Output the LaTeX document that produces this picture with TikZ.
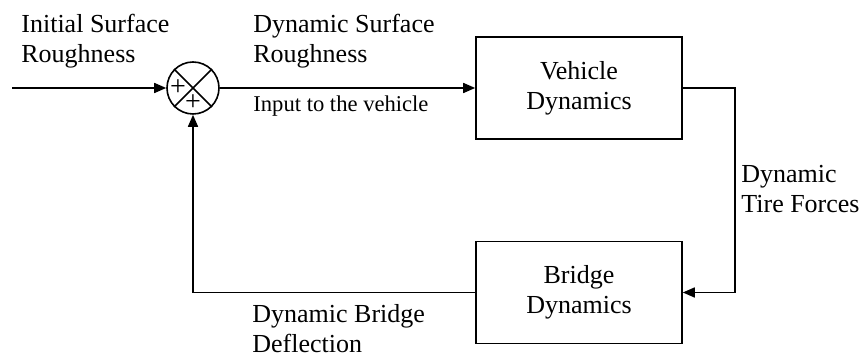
\documentclass[tikz,border=0pt]{standalone}
\usepackage{fontspec}
\setmainfont{Liberation Serif}
\usetikzlibrary{arrows.meta}
\begin{document}
\begin{tikzpicture}[x=0.5pt,y=-0.5pt]
  \tikzset{block/.style={draw, line width=0.8pt, minimum width=103pt, minimum height=51pt, align=center, font=\fontsize{13}{15}\selectfont}}
  \tikzset{lbl/.style={anchor=base west, align=left, inner sep=0pt, font=\fontsize{13}{15}\selectfont}}
  \tikzset{sig/.style={line width=0.8pt, -{Triangle[length=6pt,width=5pt]}}}
  \useasboundingbox (0,0) rectangle (859,356);
  % summing junction
  \node[draw, circle, line width=0.8pt, minimum size=26pt, inner sep=0pt] (sum) at (193,88) {};
  \draw[line width=0.8pt] (sum.45) -- (sum.225) (sum.135) -- (sum.315);
  \node[font=\fontsize{14}{14}\selectfont, inner sep=0pt] (plusl) at (178,88) {+};
  \node[font=\fontsize{14}{14}\selectfont, inner sep=0pt] (plusb) at (193,103) {+};
  % blocks
  \node[block] (veh) at (579,88) {Vehicle\\Dynamics};
  \node[block] (bri) at (579,292.5) {Bridge\\Dynamics};
  \coordinate (in) at (12,88);
  % labels (base = last line)
  \node[lbl] (initial) at (21,63) {Initial Surface\\Roughness};
  \node[lbl] (dynsurf) at (253,63) {Dynamic Surface\\Roughness};
  \node[lbl, font=\fontsize{11.3}{13}\selectfont] (input) at (253,112) {Input to the vehicle};
  \node[lbl] (tire) at (741,213) {Dynamic\\Tire Forces};
  \node[lbl] (deflect) at (252,353) {Dynamic Bridge\\Deflection};
  % signals
  \draw[sig] (in) -- (sum.west);
  \draw[sig] (sum.east) -- (veh.west);
  \draw[sig] (veh.east) -- ++(52,0) |- (bri.east);
  \draw[sig] (bri.west) -| (sum.south);
\end{tikzpicture}
\end{document}
